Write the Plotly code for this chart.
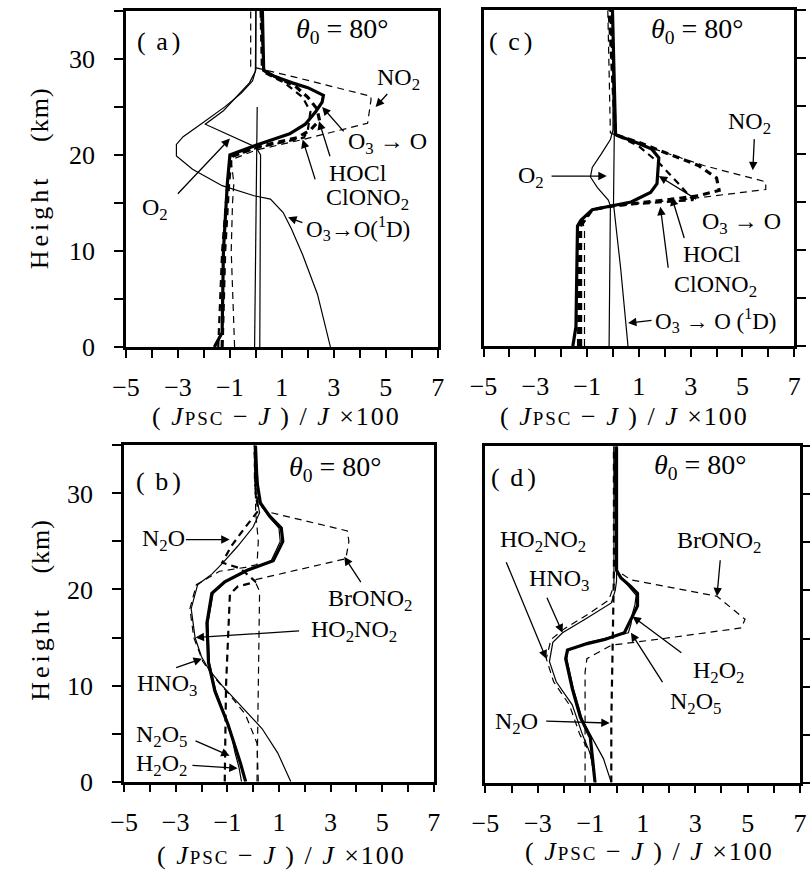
import plotly.graph_objects as go

# ---------------- data ----------------
# panel (a)
a_O1D_h = [0, 5.5, 9.6, 12.3, 14.0, 15.4, 15.75, 16.8, 18.5, 19.9, 21.1, 21.9, 23.3, 25.0, 26.4, 27.7, 28.9, 35]
a_O1D_v = [2.87, 2.37, 1.8, 1.37, 1.05, 0.56, -0.07, -1.3, -2.44, -3.06, -3.06, -2.8, -2.07, -1.2, -0.57, -0.13, 0.0, 0.0]
a_O2_h = [0, 10, 20.0, 20.8, 23.2, 24.6, 25.6, 27.5, 28.7, 35]
a_O2_v = [0.15, 0.17, 0.18, 0.0, -1.95, -1.25, -0.9, -0.25, -0.02, 0.0]
a_X_h = [0, 10, 25.0]
a_X_v = [-0.05, 0.0, 0.05]
a_O3O_h = [0, 1.5, 10, 17, 20, 21, 22.2, 23.2, 24.5, 25.5, 26.2, 27.0, 27.5, 28.2, 28.8, 35]
a_O3O_v = [-1.6, -1.3, -1.25, -1.1, -1.0, 0.0, 1.3, 1.9, 2.3, 2.55, 2.6, 2.0, 1.4, 0.7, 0.3, 0.25]
a_HOCl_h = [0, 10, 17, 19.8, 20.8, 21.8, 22.6, 23.6, 24.8, 26, 27.2, 28.2, 28.9, 35]
a_HOCl_v = [-1.3, -1.2, -1.05, -0.95, 0.0, 1.6, 2.1, 2.45, 2.35, 2.0, 1.5, 0.7, 0.25, 0.2]
a_ClONO2_h = [0, 10, 17, 19.8, 20.7, 21.4, 21.8, 22.6, 23.6, 24.5, 26, 27.5, 28.6, 35]
a_ClONO2_v = [-1.45, -1.3, -1.1, -1.0, 0.0, 1.2, 1.85, 2.0, 2.05, 2.1, 1.8, 1.1, 0.3, 0.2]
a_NO2_h = [0, 5, 10, 15, 17, 19.5, 20.5, 21.6, 23.3, 25.7, 26.1, 28.1, 28.8, 29.2, 35]
a_NO2_v = [-0.82, -0.88, -0.95, -0.9, -0.85, -0.95, 0.0, 1.8, 4.3, 4.43, 4.43, 1.5, 0.4, -0.2, -0.2]

# panel (c)
c_O2_h = [0, 14.6, 15.2, 16.5, 17.6, 18.6, 20, 21.5, 22.5, 35]
c_O2_v = [-0.15, -0.1, -0.18, -0.6, -0.87, -0.8, -0.45, -0.1, 0.0, 0.0]
c_O1D_h = [0, 2.4, 8, 14.8, 22, 35]
c_O1D_v = [0.58, 0.5, 0.3, 0.02, 0.05, -0.02]
c_O3O_h = [0, 2, 12.5, 13.1, 14.2, 14.6, 15.0, 16.0, 16.9, 19.6, 20.5, 21.2, 22, 35]
c_O3O_v = [-1.55, -1.43, -1.37, -1.24, -0.8, 0.0, 0.7, 1.45, 1.7, 1.77, 1.5, 0.9, 0.1, -0.02]
c_NO2_h = [0, 12, 12.8, 14.2, 14.6, 15.0, 15.2, 15.8, 16.3, 17.1, 18.8, 20.6, 21.5, 22.2, 35]
c_NO2_v = [-1.1, -1.1, -1.15, -0.8, 0.0, 1.5, 2.6, 4.5, 5.9, 5.9, 3.5, 1.5, 0.5, -0.1, -0.2]
c_HOCl_h = [0, 12.5, 14.2, 14.6, 15.2, 15.6, 16.2, 17.5, 18.8, 20.2, 21.2, 22, 35]
c_HOCl_v = [-1.25, -1.25, -0.8, 0.0, 2.0, 3.2, 4.1, 4.0, 3.3, 2.0, 1.0, 0.1, -0.15]
c_ClONO2_h = [0, 12.5, 14.2, 14.6, 15.0, 15.2, 17, 19, 20.8, 22, 35]
c_ClONO2_v = [-1.35, -1.3, -0.8, 0.0, 2.0, 3.1, 2.5, 1.8, 1.0, 0.1, -0.1]

# panel (b)
b_BrONO2_h = [0, 10, 19.8, 21.0, 23.2, 25.0, 26.1, 28.1, 29, 31, 35]
b_BrONO2_v = [0.15, 0.2, 0.25, 0.05, 3.59, 3.71, 3.65, 0.53, 0.2, 0.05, 0.05]
b_N2O_h = [0, 10, 19.5, 20.3, 20.8, 22.2, 22.8, 24.5, 26.5, 28.2, 30, 35]
b_N2O_v = [-1.1, -1.05, -0.9, -0.6, 0.1, -0.5, -1.2, -0.85, -0.3, 0.2, 0.1, 0.05]
b_HNO3_h = [0, 3, 5.5, 6.5, 8.3, 10, 11.6, 13, 15, 18, 20.5, 21.6, 22.7, 24.5, 26.5, 28, 30, 35]
b_HNO3_v = [1.46, 0.95, 0.35, 0.0, -0.6, -1.2, -1.7, -2.0, -2.25, -2.4, -2.15, -1.6, -1.2, -0.6, 0.0, 0.25, 0.1, 0.05]
b_HO2NO2_h = [0, 4, 7, 9, 11, 12.5, 15, 18, 20.5, 21.9, 22.3, 22.6, 25, 28, 35]
b_HO2NO2_v = [0.2, 0.15, -0.3, -0.9, -1.55, -1.95, -2.3, -2.45, -2.2, -1.3, -0.3, 0.15, 0.2, 0.1, 0.05]
b_N2O5_h = [0, 2, 6, 9.4, 12.4, 16.5, 19.6, 20.8, 22, 23, 25, 26.4, 27.6, 29, 31.2, 35]
b_N2O5_v = [-0.29, -0.5, -0.98, -1.48, -1.73, -1.79, -1.6, -1.1, -0.23, 0.78, 1.15, 1.09, 0.65, 0.28, 0.15, 0.09]
b_H2O2_h = [0, 1.5, 3, 5, 7, 9.5, 12.4, 16.5, 19.6, 20.8, 22, 23, 25, 26.4, 27.6, 29, 35]
b_H2O2_v = [-0.45, -0.55, -0.7, -0.85, -1.1, -1.45, -1.7, -1.75, -1.55, -1.05, -0.2, 0.7, 1.05, 1.0, 0.6, 0.25, 0.08]

# panel (d)
d_BrONO2_h = [0, 10, 11.5, 12.9, 14.3, 15.0, 16.1, 17.0, 19.4, 21.1, 22.1, 35]
d_BrONO2_v = [-1.2, -1.2, -1.2, -1.13, -0.2, 1.8, 4.76, 4.9, 3.83, 0.55, 0.0, -0.1]
d_N2O_h = [0, 6.4, 14, 22, 35]
d_N2O_v = [-0.2, -0.2, -0.15, -0.1, -0.1]
d_H2O2_h = [0, 4.7, 6.8, 9.8, 12.9, 13.8, 14.4, 14.9, 15.6, 17, 18.4, 19.7, 20.4, 21.3, 22.1, 35]
d_H2O2_v = [-0.82, -1.0, -1.38, -1.69, -1.94, -1.87, -1.2, -0.45, 0.3, 0.55, 0.8, 0.8, 0.55, 0.17, 0.0, 0.0]
d_N2O5_h = [0, 2.5, 4.5, 6.5, 9.8, 12.9, 13.8, 14.6, 15.1, 15.6, 16.5, 17.5, 18.5, 19.5, 20.3, 21.6, 22.1]
d_N2O5_v = [-0.2, -0.5, -0.9, -1.3, -1.65, -1.9, -1.85, -1.1, -0.3, 0.45, 0.55, 0.6, 0.7, 0.75, 0.5, 0.1, 0.0]
d_HNO3_h = [0, 3, 5, 8.1, 10.5, 12.6, 14.6, 15.6, 17, 18.7, 20, 21, 22.1, 35]
d_HNO3_v = [-0.8, -1.0, -1.3, -1.69, -2.3, -2.56, -2.43, -2.06, -1.2, -0.2, -0.05, 0.0, 0.0, 0.0]
d_HO2NO2_h = [0, 3, 5, 8.1, 10.5, 12.9, 14.9, 16, 17.5, 19, 20.5, 22, 35]
d_HO2NO2_v = [-0.8, -1.0, -1.4, -1.8, -2.4, -2.68, -2.5, -2.0, -1.1, -0.3, -0.1, -0.1, -0.1]

x_ticks = list(range(-5, 8))
x_ticktext = [("\u2212" + str(-t) if t < 0 else str(t)) if t % 2 else "" for t in x_ticks]
y_ticks = [0, 5, 10, 15, 20, 25, 30, 35]
y_ticktext = ["0", "", "10", "", "20", "", "30", ""]

# ---------------- figure ----------------
FONT = "Liberation Serif"
W, H = 810, 892
fig = go.Figure()

THICK = dict(color="black", width=3.2)
MED = dict(color="black", width=2.2)
THIN = dict(color="black", width=1.2)
DASH = "7px,5px"


def add(ax, v, h, style, dash=None):
    line = dict(style)
    if dash:
        line["dash"] = dash
    fig.add_trace(go.Scatter(x=v, y=h, mode="lines", line=line, xaxis="x" + ax, yaxis="y" + ax,
                             showlegend=False, hoverinfo="skip"))

# (a) -> axis '' ; (c) -> '2' ; (b) -> '3' ; (d) -> '4'
add("", a_O1D_v, a_O1D_h, THIN)
add("", a_O2_v, a_O2_h, THIN)
add("", a_X_v, a_X_h, THIN)
add("", a_NO2_v, a_NO2_h, THIN, DASH)
add("", a_ClONO2_v, a_ClONO2_h, MED, DASH)
add("", a_HOCl_v, a_HOCl_h, THICK, DASH)
add("", a_O3O_v, a_O3O_h, THICK)

add("2", c_O2_v, c_O2_h, THIN)
add("2", c_O1D_v, c_O1D_h, THIN)
add("2", c_NO2_v, c_NO2_h, THIN, DASH)
add("2", c_ClONO2_v, c_ClONO2_h, MED, DASH)
add("2", c_HOCl_v, c_HOCl_h, THICK, DASH)
add("2", c_O3O_v, c_O3O_h, THICK)

add("3", b_BrONO2_v, b_BrONO2_h, THIN, DASH)
add("3", b_N2O_v, b_N2O_h, MED, DASH)
add("3", b_HO2NO2_v, b_HO2NO2_h, THIN, DASH)
add("3", b_HNO3_v, b_HNO3_h, THIN)
add("3", b_H2O2_v, b_H2O2_h, THIN)
add("3", b_N2O5_v, b_N2O5_h, THICK)

add("4", d_BrONO2_v, d_BrONO2_h, THIN, DASH)
add("4", d_N2O_v, d_N2O_h, MED, DASH)
add("4", d_HO2NO2_v, d_HO2NO2_h, THIN, DASH)
add("4", d_HNO3_v, d_HNO3_h, THIN)
add("4", d_N2O5_v, d_N2O5_h, THIN)
add("4", d_H2O2_v, d_H2O2_h, THICK)

# panel pixel boxes: (left, top, right, bottom)
boxes = {"": (115, 11, 435, 353), "2": (482, 10, 801, 352),
         "3": (113, 453, 431, 795), "4": (484, 454, 807, 796)}
tickfont = dict(family=FONT, size=26, color="black")
layout = dict(width=W, height=H, margin=dict(l=0, r=0, t=0, b=0),
              plot_bgcolor="white", paper_bgcolor="white", showlegend=False)
for k, (l, t, r, b) in boxes.items():
    right = k in ("2", "4")
    layout["xaxis" + k] = dict(domain=[l / W, r / W], range=[-5, 7], anchor="y" + k,
                               tickvals=x_ticks, ticktext=x_ticktext, ticks="outside",
                               ticklen=8, tickwidth=2, tickcolor="black", showline=True,
                               linewidth=2.5, linecolor="black", mirror=True, showgrid=False,
                               zeroline=False, tickfont=tickfont, ticklabelstandoff=7)
    layout["yaxis" + k] = dict(domain=[1 - b / H, 1 - t / H], range=[0, 35], anchor="x" + k,
                               tickvals=y_ticks, ticktext=y_ticktext, ticks="outside",
                               ticklen=9, tickwidth=2, tickcolor="black", showline=True,
                               linewidth=2.5, linecolor="black", mirror=True, showgrid=False,
                               zeroline=False, tickfont=tickfont, side="right" if right else "left",
                               showticklabels=not right, ticklabelstandoff=14)
fig.update_layout(**layout)

NB = "\u00a0"


def text(ax, x, y, s, size=24, xanchor="center"):
    fig.add_annotation(xref="x" + ax, yref="y" + ax, x=x, y=y, text=s, showarrow=False,
                       font=dict(family=FONT, size=size, color="black"), xanchor=xanchor,
                       yanchor="middle")


def arrow(ax, x0, y0, x1, y1):
    fig.add_annotation(xref="x" + ax, yref="y" + ax, axref="x" + ax, ayref="y" + ax,
                       x=x1, y=y1, ax=x0, ay=y0, text="", showarrow=True, arrowhead=2,
                       arrowsize=1.3, arrowwidth=1.3, arrowcolor="black", standoff=0)

THETA = "<i>\u03b8</i><sub>0</sub>" + NB + "=" + NB + "80\u00b0"
SUB = lambda s: "<sub>" + s + "</sub>"
PANEL = lambda c: "(<span style='letter-spacing:4px'>" + NB + c + "</span>)"

# (a)
text("", -3.75, 31.8, PANEL("a"), 26)
text("", 3.35, 32.9, THETA, 28)
text("", 5.49, 27.9, "NO" + SUB("2"))
arrow("", 5.11, 26.5, 4.61, 25.0)
text("", 5.05, 21.2, "O" + SUB("3") + " \u2192 O")
arrow("", 3.43, 22.3, 2.55, 25.0)
text("", 3.93, 18.1, "HOCl")
arrow("", 2.87, 19.7, 2.43, 23.5)
text("", 4.3, 15.4, "ClONO" + SUB("2"))
arrow("", 2.3, 17.3, 1.8, 21.6)
text("", -3.88, 14.4, "O" + SUB("2"))
arrow("", -3.06, 15.8, -1.0, 21.7)
text("", 1.85, 12.3, "O" + SUB("3") + "\u2192O(<sup>1</sup>D)", size=23, xanchor="left")
arrow("", 1.85, 12.9, 1.24, 13.5)

# (c)
text("2", -3.95, 31.7, PANEL("c"), 26)
text("2", 3.26, 32.8, THETA, 28)
text("2", 5.28, 23.2, "NO" + SUB("2"))
arrow("2", 5.46, 21.7, 5.4, 18.3)
text("2", -3.18, 17.6, "O" + SUB("2"))
arrow("2", -2.43, 17.7, -0.24, 17.7)
text("2", 4.96, 12.8, "O" + SUB("3") + " \u2192 O")
arrow("2", 3.27, 15.2, 1.77, 17.7)
text("2", 3.83, 9.6, "HOCl")
arrow("2", 2.77, 11.1, 2.27, 15.5)
text("2", 3.96, 6.3, "ClONO" + SUB("2"))
arrow("2", 2.14, 8.0, 1.83, 14.5)
text("2", 1.55, 2.7, "O" + SUB("3") + " \u2192 O (<sup>1</sup>D)", size=23, xanchor="left")
arrow("2", 1.55, 2.7, 0.58, 2.4)

# (b)
text("3", -3.68, 31.2, PANEL("b"), 26)
text("3", 3.2, 32.6, THETA, 28)
text("3", -3.48, 25.2, "N" + SUB("2") + "O")
arrow("3", -2.66, 25.2, -0.91, 25.2)
text("3", 4.53, 18.9, "BrONO" + SUB("2"))
arrow("3", 4.21, 20.6, 3.53, 23.4)
text("3", 3.9, 15.7, "HO" + SUB("2") + "NO" + SUB("2"))
arrow("3", 1.84, 15.7, -2.23, 15.0)
text("3", -3.35, 10.1, "HNO" + SUB("3"))
arrow("3", -3.04, 11.8, -1.98, 12.8)
text("3", -3.54, 4.8, "N" + SUB("2") + "O" + SUB("5"))
arrow("3", -2.29, 4.3, -0.91, 2.7)
text("3", -3.54, 1.7, "H" + SUB("2") + "O" + SUB("2"))
arrow("3", -2.41, 1.7, -0.6, 1.4)

# (d)
text("4", -3.93, 31.8, PANEL("d"), 26)
text("4", 3.2, 32.9, THETA, 28)
text("4", -2.8, 25.2, "HO" + SUB("2") + "NO" + SUB("2"))
arrow("4", -4.23, 23.1, -2.68, 12.9)
text("4", -2.18, 21.1, "HNO" + SUB("3"))
arrow("4", -2.68, 19.4, -2.06, 15.6)
text("4", 3.9, 25.0, "BrONO" + SUB("2"))
arrow("4", 3.96, 23.3, 3.83, 19.4)
text("4", 3.9, 11.5, "H" + SUB("2") + "O" + SUB("2"))
arrow("4", 2.53, 13.4, 0.61, 17.3)
text("4", 3.03, 8.3, "N" + SUB("2") + "O" + SUB("5"))
arrow("4", 1.79, 10.3, 0.55, 15.6)
text("4", -3.8, 6.2, "N" + SUB("2") + "O")
arrow("4", -2.74, 6.4, -0.26, 6.2)

# axis titles
XT = ("<span style='letter-spacing:2px'>(" + NB + "<i>J</i><span style='font-size:19px'>PSC</span>"
      + NB + "\u2212" + NB + "<i>J</i>" + NB + ")" + NB + "/" + NB + "<i>J</i>" + NB + "\u00d7" + "100</span>")
for (px, py) in [(269, 424), (627, 424), (275, 870), (652, 866)]:
    fig.add_annotation(xref="paper", yref="paper", x=px / W, y=1 - py / H, text=XT,
                       xanchor="center", yanchor="middle",
                       showarrow=False, font=dict(family=FONT, size=26, color="black"))
YT = ("<span style='letter-spacing:4px'>Height</span>" + NB * 5
      + "<span style='letter-spacing:1px'>(km)</span>")
for (px, py) in [(27, 181), (27, 620)]:
    fig.add_annotation(xref="paper", yref="paper", x=px / W, y=1 - py / H, text=YT,
                       xanchor="center", yanchor="middle",
                       textangle=-90, showarrow=False, font=dict(family=FONT, size=26, color="black"))

fig.write_html("out.html")
